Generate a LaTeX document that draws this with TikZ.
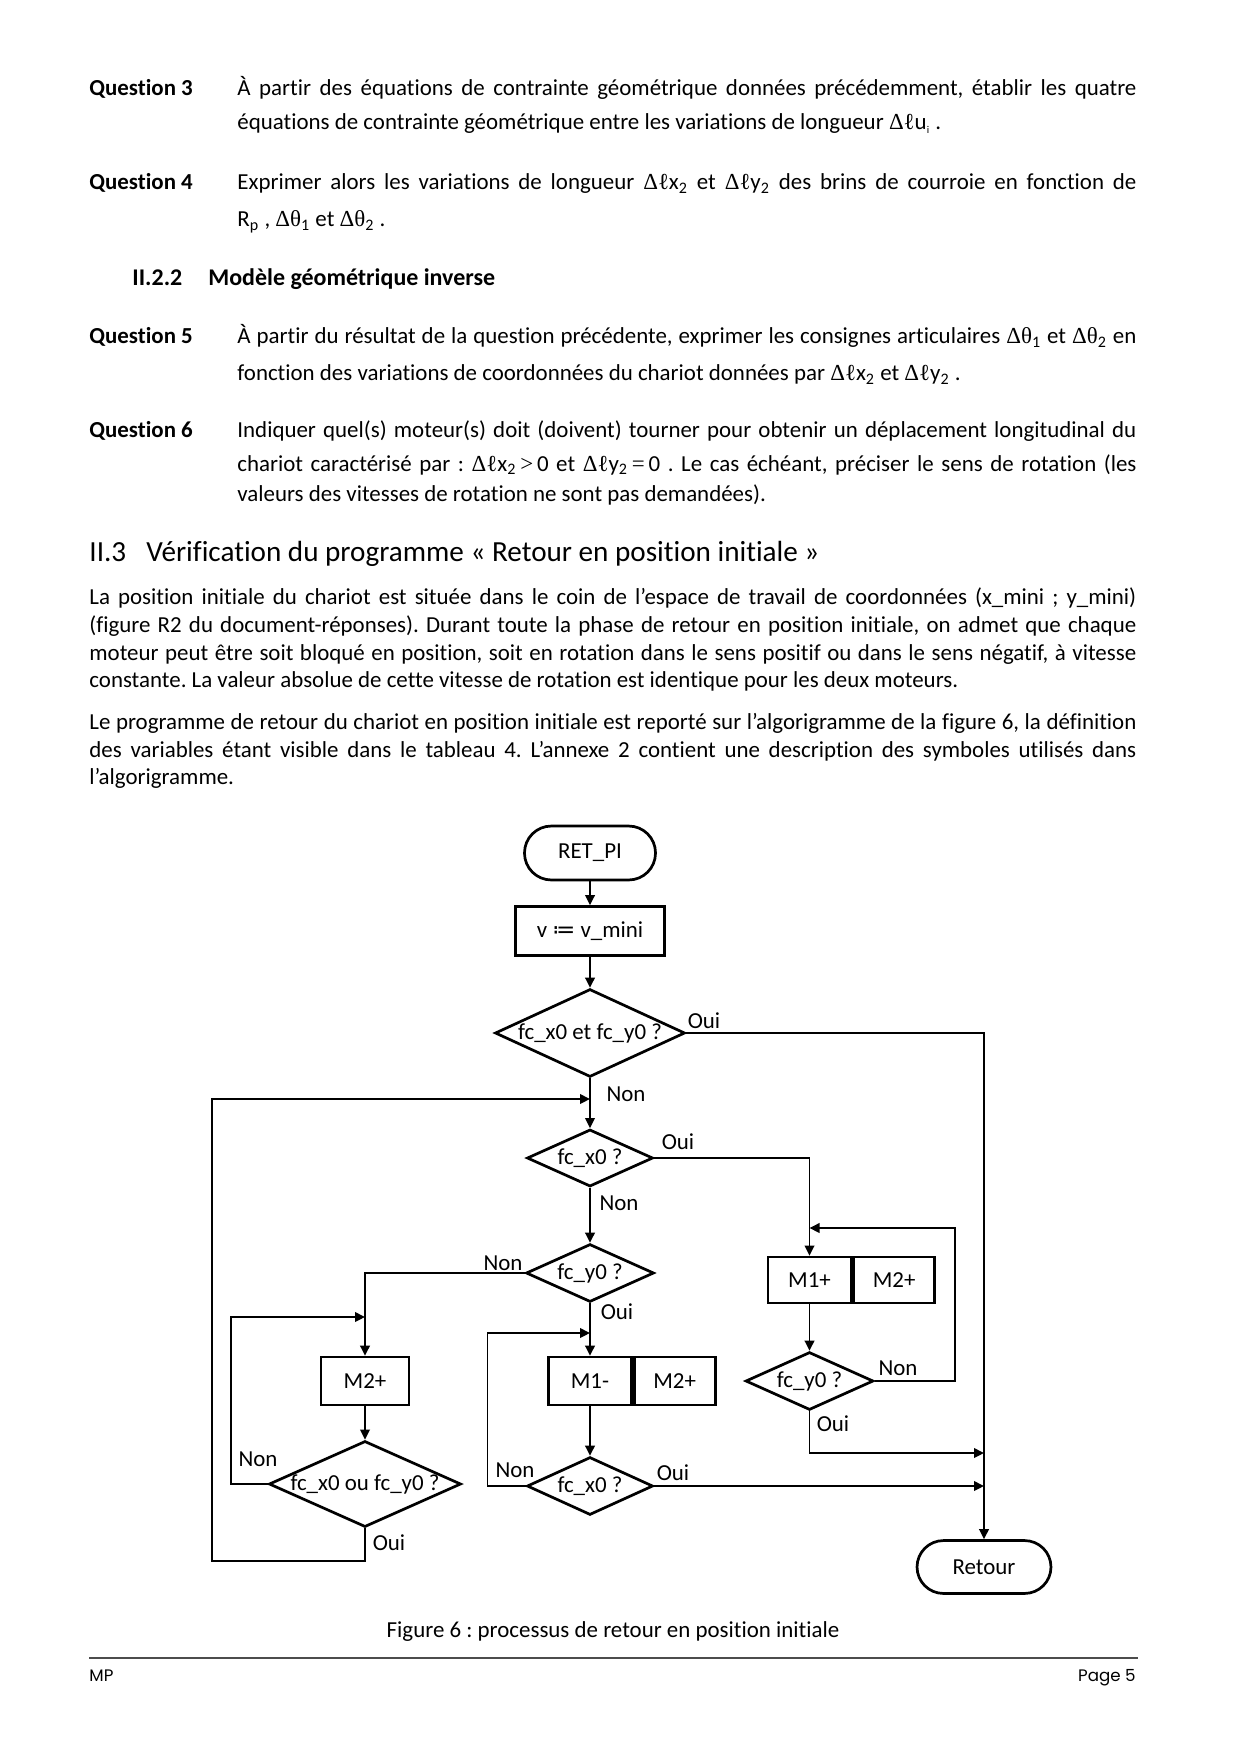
\documentclass[tikz,border=0pt]{standalone}
\usepackage{fontspec}
\setmainfont{Carlito}[RawFeature={-liga}]
\newfontfamily\mf{Liberation Serif}
\newfontfamily\ftf{Poppins}
\newfontfamily\dvs{DejaVu Sans}
\usetikzlibrary{shapes.geometric,arrows.meta}
\frenchspacing
\newdimen\pxd \pxd=0.48006pt
\newcommand\dl{{\mf Δℓ}}
\newcommand\dth{{\mf Δθ}}
\newcommand\sub[1]{\textsubscript{#1}}
\newcommand\jl[2]{\makebox[#1\pxd][s]{#2}}
\newcommand\fsz{\fontsize{11}{13.6}\selectfont}
\tikzset{
  txt/.style={inner sep=0, anchor=base west},
  shp/.style={draw, line width=1.3pt, inner sep=0},
  term/.style={shp, rectangle, rounded corners=12.9pt, minimum width=62.9pt, minimum height=25.9pt},
  proc/.style={shp, rectangle, minimum height=23pt},
  dia/.style={shp, diamond},
  conn/.style={line width=0.85pt},
  arr/.style={conn, -{Triangle[length=4.8pt,width=4.6pt]}},
  lab/.style={inner sep=0}
}
\begin{document}
\begin{tikzpicture}[x=0.48006pt, y=-0.48006pt, font=\fsz]
\path[use as bounding box, fill=white] (0,0) rectangle (1240,1754);

% ---- Questions
\node[txt] (q3l) at (89,96) {\bfseries Question 3};
\node[txt] (q3a) at (237,96) {\jl{899}{À partir des équations de contrainte géométrique données précédemment, établir les quatre}};
\node[txt] (q3b) at (237,130) {équations de contrainte géométrique entre les variations de longueur \dl u\sub{\tiny i} .};

\node[txt] (q4l) at (89,190) {\bfseries Question 4};
\node[txt] (q4a) at (237,190) {\jl{899}{Exprimer alors les variations de longueur \dl x\sub{2} et \dl y\sub{2} des brins de courroie en fonction de}};
\node[txt] (q4b) at (237,227) {R\sub{p} , \dth\sub{1} et \dth\sub{2} .};

\node[txt] (h22n) at (132,286) {\bfseries\fontsize{11.5}{14}\selectfont II.2.2};
\node[txt] (h22t) at (208,286) {\bfseries\fontsize{11.5}{14}\selectfont Modèle géométrique inverse};

\node[txt] (q5l) at (89,344) {\bfseries Question 5};
\node[txt] (q5a) at (237,344) {\jl{899}{À partir du résultat de la question précédente, exprimer les consignes articulaires \dth\sub{1} et \dth\sub{2} en}};
\node[txt] (q5b) at (237,381) {fonction des variations de coordonnées du chariot données par \dl x\sub{2} et \dl y\sub{2} .};

\node[txt] (q6l) at (89,438) {\bfseries Question 6};
\node[txt] (q6a) at (237,438) {\jl{899}{Indiquer quel(s) moteur(s) doit (doivent) tourner pour obtenir un déplacement longitudinal du}};
\node[txt] (q6b) at (237,471) {\jl{899}{chariot caractérisé par : \dl x\sub{2}{\mf\,>\,}0 et \dl y\sub{2}{\mf\,=\,}0 . Le cas échéant, préciser le sens de rotation (les}};
\node[txt] (q6c) at (237,502) {valeurs des vitesses de rotation ne sont pas demandées).};

% ---- Section II.3
\node[txt] (h3n) at (89,561) {\fontsize{14}{17}\selectfont II.3};
\node[txt] (h3t) at (146,561) {\fontsize{14}{17}\selectfont Vérification du programme « Retour en position initiale »};

\node[txt] (p1a) at (89,604) {\jl{1047}{La position initiale du chariot est située dans le coin de l’espace de travail de coordonnées (x\_mini ; y\_mini)}};
\node[txt] (p1b) at (89,632) {\jl{1047}{(figure R2 du document-réponses). Durant toute la phase de retour en position initiale, on admet que chaque}};
\node[txt] (p1c) at (89,660) {\jl{1047}{moteur peut être soit bloqué en position, soit en rotation dans le sens positif ou dans le sens négatif, à vitesse}};
\node[txt] (p1d) at (89,687) {constante. La valeur absolue de cette vitesse de rotation est identique pour les deux moteurs.};

\node[txt] (p2a) at (89,729) {\jl{1047}{Le programme de retour du chariot en position initiale est reporté sur l’algorigramme de la figure 6, la définition}};
\node[txt] (p2b) at (89,757) {\jl{1047}{des variables étant visible dans le tableau 4. L’annexe 2 contient une description des symboles utilisés dans}};
\node[txt] (p2c) at (89,784) {l’algorigramme.};

% ---- Flowchart nodes
\node[term] (ret) at (590,853) {RET\_PI};
\node[proc, minimum width=71.5pt, minimum height=23.5pt] (vb) at (590,931) {v {\dvs ≔} v\_mini};
\node[dia, minimum width=91.2pt, minimum height=42.2pt, label=center:{fc\_x0 et fc\_y0 ?}] (d1) at (590,1033) {};
\node[dia, minimum width=60.5pt, minimum height=27.4pt, label=center:{fc\_x0 ?}] (d2) at (590,1158) {};
\node[dia, minimum width=61.4pt, minimum height=27.8pt, label=center:{fc\_y0 ?}] (d3) at (590,1273) {};
\node[proc, minimum width=39.8pt, minimum height=22.1pt] (m1p) at (809.5,1280) {M1+};
\node[proc, minimum width=38.9pt, minimum height=22.1pt, anchor=west] (m2p) at (m1p.east) {M2+};
\node[dia, minimum width=61.4pt, minimum height=27.8pt, label=center:{fc\_y0 ?}] (d5) at (809.5,1381) {};
\node[proc, minimum width=42.2pt] (m2) at (365,1381) {M2+};
\node[dia, minimum width=92.2pt, minimum height=41.3pt, label=center:{fc\_x0 ou fc\_y0 ?}] (d4) at (365,1484) {};
\node[proc, minimum width=39.8pt] (m1m) at (590,1381) {M1-};
\node[proc, minimum width=38.9pt, anchor=west] (m2b) at (m1m.east) {M2+};
\node[dia, minimum width=60.5pt, minimum height=27.8pt, label=center:{fc\_x0 ?}] (d6) at (590,1486) {};
\node[term, minimum width=64.3pt, minimum height=25.4pt, rounded corners=12.7pt] (rt) at (984,1567) {Retour};

% junction coordinates
\coordinate (j1) at (590,1099);
\coordinate (lx1) at (212,1561);
\coordinate (lx2) at (231,1317);
\coordinate (j2) at (365,1317);
\coordinate (lx3) at (487.5,1333);
\coordinate (j3) at (590,1333);
\coordinate (rx5) at (955,1228);
\coordinate (j4) at (809.5,1228);
\coordinate (j5) at (984,1453);
\coordinate (j6) at (984,1486);

% ---- Connectors
\draw[arr] (ret) -- (vb);
\draw[arr] (vb) -- (d1);
\draw[arr] (d1.east) -| (rt.north);
\draw[arr] (d1.south) -- (d2.north);
\draw[arr] (d2.east) -| (m1p.north);
\draw[arr] (d2.south) -- (d3.north);
\draw[arr] (d3.west) -| (m2.north);
\draw[arr] (d3.south) -- (m1m.north);
\draw[arr] (m1p.south) -- (d5.north);
\draw[arr] (d5.east) -| (rx5) -- (j4);
\draw[arr] (d5.south) |- (j5);
\draw[arr] (m2.south) -- (d4.north);
\draw[arr] (d4.west) -| (lx2) -- (j2);
\draw[arr] (d4.south) |- (lx1) |- (j1);
\draw[arr] (m1m.south) -- (d6.north);
\draw[arr] (d6.west) -| (lx3) -- (j3);
\draw[arr] (d6.east) -- (j6);

% ---- Branch labels
\node[lab] (o1) at (704,1021) {Oui};
\node[lab] (n1) at (626,1094) {Non};
\node[lab] (o2) at (678,1142) {Oui};
\node[lab] (n2) at (619,1203) {Non};
\node[lab] (n3) at (503,1263) {Non};
\node[lab] (o3) at (617,1312) {Oui};
\node[lab] (n5) at (898,1368) {Non};
\node[lab] (o5) at (833,1424) {Oui};
\node[lab] (n4) at (258,1459) {Non};
\node[lab] (o4) at (389,1543) {Oui};
\node[lab] (n6) at (515,1470) {Non};
\node[lab] (o6) at (673,1473) {Oui};

% ---- Caption and footer
\node[inner sep=0, anchor=base] (cap) at (613,1637) {Figure 6 : processus de retour en position initiale};
\draw[gray!60!black, line width=0.9pt] (89,1658) -- (1138,1658);
\node[txt] (fl) at (89,1681) {\ftf\fontsize{8}{10}\selectfont MP};
\node[inner sep=0, anchor=base east] (fr) at (1136,1681) {\ftf\fontsize{8}{10}\selectfont Page 5};
\end{tikzpicture}
\end{document}
